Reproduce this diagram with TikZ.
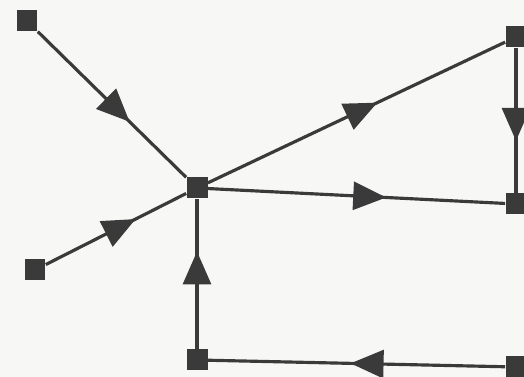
\documentclass[tikz,border=0pt]{standalone}
\usepackage{xcolor}
\usetikzlibrary{arrows.meta, decorations.markings}
\definecolor{inkgray}{HTML}{3A3A3A}
\definecolor{paperwhite}{HTML}{F7F7F5}

\begin{document}
\begin{tikzpicture}[
    x=0.02cm, y=-0.02cm,
    vertex/.style={
        rectangle, fill=inkgray, draw=none,
        minimum size=0.42cm, inner sep=0pt,
    },
    edge/.style={
        line width=1.8pt, draw=inkgray,
        postaction={decorate},
        decoration={markings, mark=at position #1 with {\arrow{Triangle[length=0.66cm, width=0.56cm]}}},
    },
    edge/.default=0.6,
]

\fill[paperwhite] (0,0) rectangle (524,377);
\useasboundingbox (0,0) rectangle (524,377);

\node[vertex] (topleft) at (27,21) {};
\node[vertex] (left) at (35,270) {};
\node[vertex] (hub) at (197,188) {};
\node[vertex] (topright) at (516,37) {};
\node[vertex] (midright) at (516,204) {};
\node[vertex] (bottom) at (197,360) {};
\node[vertex] (bottomright) at (516,367) {};

\draw[edge=0.62] (topleft) -- (hub);
\draw[edge=0.64] (left) -- (hub);
\draw[edge=0.57] (hub) -- (topright);
\draw[edge=0.6] (hub) -- (midright);
\draw[edge=0.64] (topright) -- (midright);
\draw[edge=0.65] (bottom) -- (hub);
\draw[edge=0.52] (bottomright) -- (bottom);

\end{tikzpicture}
\end{document}
